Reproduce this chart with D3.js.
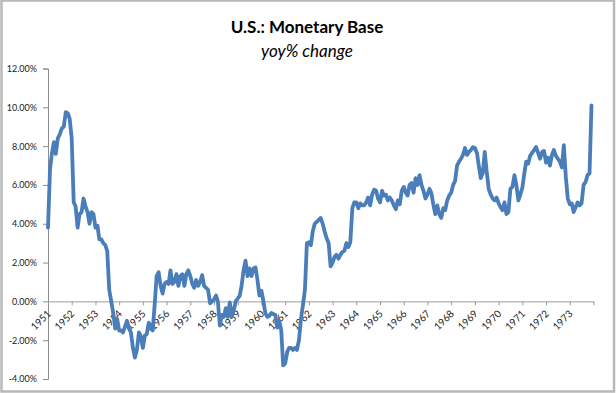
<!DOCTYPE html>
<html>
<head>
<meta charset="utf-8">
<script src="https://cdn.jsdelivr.net/npm/d3@7"></script>
<style>
  body { margin: 0; background: #fff; }
  svg { display: block; font-family: Lato, "Noto Sans", sans-serif; }
</style>
</head>
<body>
<svg id="chart" width="616" height="393"></svg>
<script>
// monthly yoy% change of the US monetary base, Jan 1951 .. Dec 1973
var startYear = 1951;
var endYear = 1974;
var yoyValues = [
  3.8, 6.8, 7.6, 8.2, 7.6, 8.4, 8.6, 8.9, 9.0, 9.75, 9.7, 9.4,        // 1951
  8.4, 5.1, 4.9, 3.8, 4.5, 4.6, 5.3, 4.9, 4.6, 4.0, 4.6, 4.5,         // 1952
  3.8, 3.9, 3.2, 3.2, 3.0, 2.9, 2.6, 0.6, 0.0, -0.6, -1.4, -0.9,      // 1953
  -1.5, -1.5, -1.6, -1.3, -1.0, -1.4, -1.6, -2.4, -2.9, -2.5, -1.6, -1.8, // 1954
  -2.4, -1.75, -1.7, -1.1, -1.4, -1.5, -0.2, 1.3, 1.5, 0.8, 0.4, 0.9, // 1955
  1.0, 0.9, 1.6, 0.9, 1.0, 1.4, 0.8, 1.3, 1.4, 0.8, 1.4, 1.6,         // 1956
  1.3, 0.9, 0.7, 1.1, 0.8, 1.0, 1.35, 0.8, 0.7, 0.6, -0.1, 0.0,       // 1957
  0.1, 0.3, 0.0, -1.25, -0.7, -0.8, -0.35, -0.8, -0.05, -0.8, -0.45, 0.0, // 1958
  0.15, 0.3, 0.8, 1.6, 2.1, 1.3, 1.7, 1.3, 1.7, 1.75, 1.1, 0.3,       // 1959
  0.55, 0.0, -0.6, -0.8, -0.75, -0.6, -0.65, -0.7, -1.35, -1.0, -1.5, -3.3, // 1960
  -3.2, -2.6, -2.4, -2.4, -2.5, -2.4, -2.5, -2.0, -0.9, -0.2, 0.6, 3.0, // 1961
  3.05, 2.9, 3.6, 4.0, 4.1, 4.2, 4.3, 4.0, 3.6, 3.25, 3.0, 1.8,       // 1962
  2.0, 2.3, 2.4, 2.2, 2.4, 2.55, 2.6, 3.0, 2.8, 3.05, 4.8, 5.1,       // 1963
  5.1, 4.8, 5.05, 4.95, 4.95, 5.1, 5.35, 4.95, 5.5, 5.75, 5.7, 5.3,   // 1964
  5.1, 5.7, 5.45, 5.5, 5.2, 5.35, 5.2, 4.95, 4.75, 5.2, 5.0, 5.7,     // 1965
  5.9, 5.6, 5.45, 6.0, 6.1, 5.6, 6.35, 6.0, 6.5, 6.0, 5.7, 5.3,       // 1966
  5.5, 5.8, 5.6, 5.0, 4.5, 4.95, 4.5, 4.3, 4.8, 4.7, 5.2, 5.45,       // 1967
  5.6, 6.0, 6.2, 7.0, 7.2, 7.35, 7.55, 7.9, 7.55, 7.7, 7.8, 7.95,     // 1968
  7.9, 7.65, 7.0, 6.35, 6.6, 7.7, 6.7, 5.8, 5.5, 5.3, 5.2, 5.35,      // 1969
  5.05, 4.85, 4.7, 5.1, 4.5, 4.6, 5.8, 5.9, 6.5, 6.0, 5.2, 5.5,       // 1970
  5.85, 6.6, 7.2, 7.1, 7.5, 7.65, 7.8, 7.95, 7.65, 7.35, 7.7, 7.75,   // 1971
  7.15, 7.4, 7.0, 7.55, 7.8, 7.5, 7.35, 7.2, 6.9, 8.05, 6.4, 5.3,     // 1972
  5.0, 5.05, 4.6, 4.85, 5.1, 4.95, 5.05, 6.0, 6.15, 6.5, 6.6, 10.1    // 1973
];
var yearLabels = d3.range(startYear, endYear);
var yTicks = [-4, -2, 0, 2, 4, 6, 8, 10, 12];

var svg = d3.select('#chart');
var margin = { left: 48, right: 22, top: 68.5, bottom: 14 };
var width = +svg.attr('width');
var height = +svg.attr('height');

// outer frame like the spreadsheet chart area
svg.append('rect')
  .attr('x', 1.5).attr('y', 0.5)
  .attr('width', width - 3.5).attr('height', height - 2)
  .attr('fill', '#fff')
  .attr('stroke', '#b8b8b8')
  .attr('stroke-width', 2.5);

var xScale = d3.scaleTime()
  .domain([new Date(startYear, 0, 1), new Date(endYear, 0, 1)])
  .range([margin.left, width - margin.right - 0.5]);
var yScale = d3.scaleLinear()
  .domain([-4, 12])
  .range([height - margin.bottom, margin.top]);

var points = yoyValues.map(function(v, i){
  return { date: new Date(startYear, i, 1), value: v };
});

// titles
svg.append('text')
  .attr('x', 307).attr('y', 33)
  .attr('text-anchor', 'middle')
  .attr('font-size', 17).attr('font-weight', 'bold')
  .attr('fill', '#000')
  .text('U.S.: Monetary Base');
svg.append('text')
  .attr('x', 307).attr('y', 57)
  .attr('text-anchor', 'middle')
  .attr('font-size', 17).attr('font-style', 'italic')
  .attr('fill', '#000')
  .text('yoy% change');

// y axis
var yAxis = svg.append('g')
  .attr('transform', 'translate(' + margin.left + ',0)')
  .call(d3.axisLeft(yScale)
    .tickValues(yTicks)
    .tickSize(5)
    .tickPadding(6)
    .tickFormat(function(d){ return d.toFixed(2) + '%'; }));
yAxis.select('.domain').attr('stroke', '#8c8c8c');
yAxis.selectAll('.tick line').attr('stroke', '#8c8c8c');
yAxis.selectAll('.tick text')
  .attr('font-size', 9)
  .attr('font-family', 'Lato, sans-serif')
  .attr('fill', '#222');

// x axis sitting on the zero line
var xAxis = svg.append('g')
  .attr('transform', 'translate(0,' + yScale(0) + ')')
  .call(d3.axisBottom(xScale)
    .tickValues(yearLabels.concat([endYear]).map(function(y){ return new Date(y, 0, 1); }))
    .tickSize(4)
    .tickSizeOuter(0)
    .tickFormat(function(d){ return d.getFullYear() < endYear ? d.getFullYear() : ''; }));
xAxis.select('.domain').attr('stroke', '#9c9c9c');
xAxis.selectAll('.tick line').attr('stroke', '#9c9c9c');
xAxis.selectAll('.tick text')
  .attr('font-size', 10)
  .attr('font-family', 'Lato, sans-serif')
  .attr('fill', '#222')
  .attr('text-anchor', 'end')
  .attr('dy', 0)
  .attr('y', 0)
  .attr('transform', 'translate(3,13) rotate(-45)');

// the series
var line = d3.line()
  .x(function(d){ return xScale(d.date); })
  .y(function(d){ return yScale(d.value); });

svg.append('path')
  .datum(points)
  .attr('fill', 'none')
  .attr('stroke', '#4a7ebb')
  .attr('stroke-width', 3.8)
  .attr('stroke-linejoin', 'round')
  .attr('stroke-linecap', 'round')
  .attr('d', line);
</script>
</body>
</html>
